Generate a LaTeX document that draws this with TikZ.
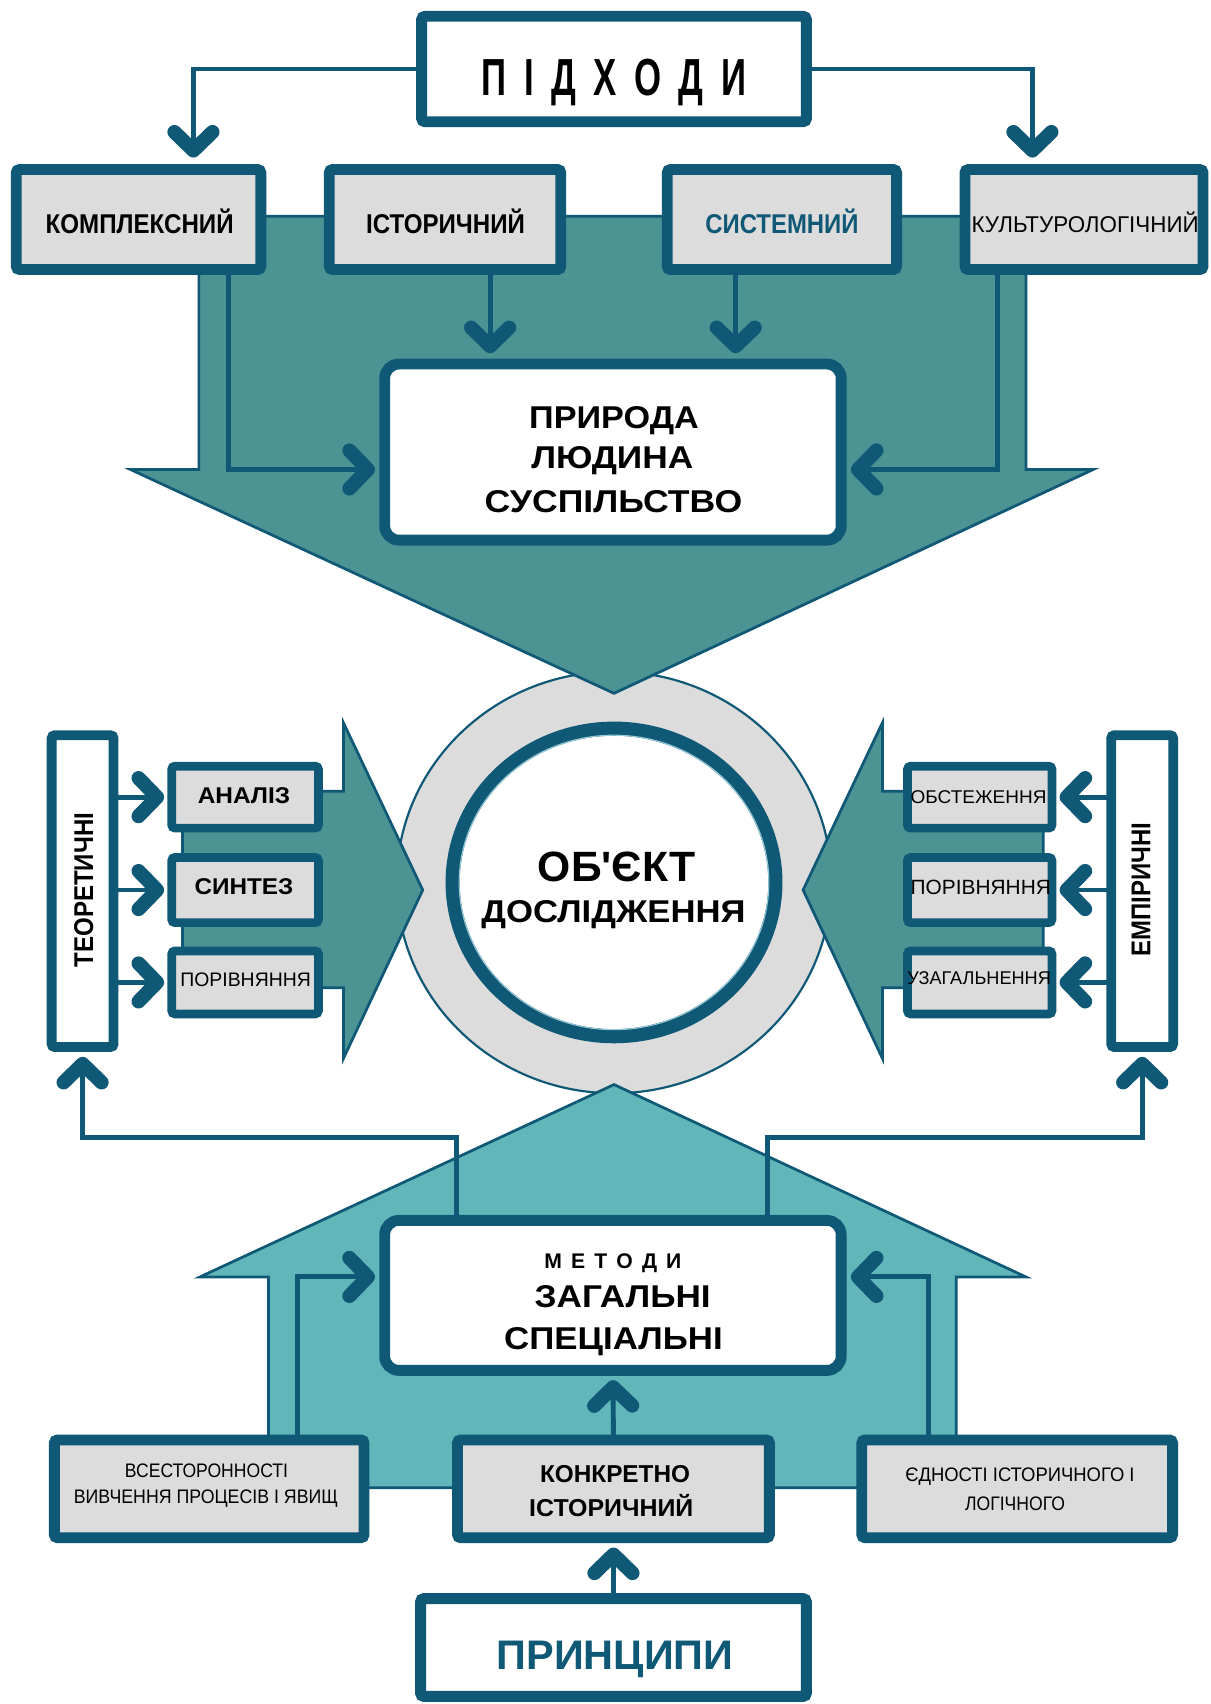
\documentclass[tikz,border=0pt]{standalone}
\usepackage{fontspec}
\setmainfont{Liberation Sans}
\newfontfamily\nolig{Liberation Sans}[Ligatures=TeXOff]
\usepackage{graphicx}
\usetikzlibrary{arrows.meta,backgrounds,calc,shapes.geometric}
\definecolor{dk}{RGB}{15,88,118}
\definecolor{tealA}{RGB}{76,147,147}
\definecolor{tealB}{RGB}{96,182,185}
\definecolor{gr}{RGB}{220,220,220}
\definecolor{ringl}{RGB}{150,200,214}
\newcommand{\fw}[2]{\resizebox{#1}{\height}{#2}}
\newcommand{\setfs}[1]{\fontsize{#1}{#1}\selectfont}
\begin{document}
\begin{tikzpicture}[x=1pt,y=-1pt,
  gbox/.style={draw=dk, fill=gr, line width=10pt, rounded corners=3pt, inner sep=0pt, outer sep=0pt},
  sbox/.style={gbox, line width=8pt},
  wbox/.style={draw=dk, fill=white, line width=10pt, rounded corners=3pt, inner sep=0pt, outer sep=0pt},
  rbox/.style={wbox, rounded corners=13pt},
  conn/.style={draw=dk, line width=4.5pt},
  chev/.style={-{Straight Barb[length=17pt,width=35pt,line width=13pt,round]}},
  tx/.style={anchor=base, inner sep=0pt, outer sep=0pt},
  big/.style={draw=dk, line width=2.5pt, line join=miter}]
\useasboundingbox (0,0) rectangle (1114,1568);

% ---- boxes ----
\node[wbox, minimum width=354pt, minimum height=97pt] (pidkh) at (565,63.5) {};
\node[gbox, minimum width=225pt, minimum height=92pt] (komp) at (127.5,202) {};
\node[gbox, minimum width=213pt, minimum height=92pt] (ist) at (409.5,202) {};
\node[gbox, minimum width=211pt, minimum height=92pt] (sist) at (719.5,202) {};
\node[gbox, minimum width=219pt, minimum height=92pt] (kult) at (997.5,202) {};
\node[rbox, minimum width=420pt, minimum height=162pt] (prir) at (564,416) {};

\node[wbox, line width=9pt, minimum width=57pt, minimum height=287pt] (teor) at (76,820) {};
\node[sbox, minimum width=135pt, minimum height=57pt] (an) at (225.5,733.5) {};
\node[sbox, minimum width=135pt, minimum height=60pt] (syn) at (225.5,819) {};
\node[sbox, minimum width=135pt, minimum height=58pt] (por) at (225.5,904) {};
\node[wbox, line width=9pt, minimum width=57pt, minimum height=287pt] (emp) at (1051,820) {};
\node[sbox, minimum width=133pt, minimum height=57pt] (obst) at (901.5,733.5) {};
\node[sbox, minimum width=133pt, minimum height=60pt] (por2) at (901.5,819) {};
\node[sbox, minimum width=133pt, minimum height=58pt] (uzag) at (901.5,904) {};

\node[ellipse, draw=dk, fill=white, line width=13pt, minimum width=297pt, minimum height=283pt, inner sep=0pt, outer sep=0pt] (obj) at (565,812) {};
\draw[ringl, line width=1pt] (obj.center) ellipse [x radius=142.5pt, y radius=135.5pt];

\node[rbox, minimum width=420pt, minimum height=138pt] (met) at (564,1192) {};
\node[gbox, minimum width=285pt, minimum height=90pt] (vses) at (192.5,1370) {};
\node[gbox, minimum width=287pt, minimum height=90pt] (konk) at (564.5,1370) {};
\node[gbox, minimum width=286pt, minimum height=90pt] (yedn) at (936,1370) {};
\node[wbox, minimum width=355pt, minimum height=90pt] (prin) at (564.5,1516) {};

% ---- texts ----
\node[tx] (pidkh-t) at (565,88) {\fw{243pt}{\setfs{48}\bfseries П\hspace{24pt}І\hspace{24pt}Д\hspace{24pt}Х\hspace{24pt}О\hspace{24pt}Д\hspace{24pt}И}};
\node[tx] (komp-t) at (128.5,215) {\fw{173pt}{\setfs{25}\bfseries КОМПЛЕКСНИЙ}};
\node[tx] (ist-t) at (410,215) {\fw{146pt}{\setfs{25}\bfseries ІСТОРИЧНИЙ}};
\node[tx, text=dk] (sist-t) at (719.5,215) {\fw{141pt}{\setfs{25}\bfseries СИСТЕМНИЙ}};
\node[tx] (kult-t) at (998.5,213.5) {\fw{209pt}{\setfs{21}КУЛЬТУРОЛОГІЧНИЙ}};

\node[tx] (prir-t1) at (565,394.5) {\fw{156pt}{\setfs{29}\bfseries ПРИРОДА}};
\node[tx] (prir-t2) at (563.5,431.5) {\fw{149pt}{\setfs{29}\bfseries ЛЮДИНА}};
\node[tx] (prir-t3) at (564.5,471.5) {\fw{237pt}{\setfs{29}\bfseries СУСПІЛЬСТВО}};

\node[tx] (obj-t1) at (567.5,811) {\fw{145pt}{\setfs{39}\bfseries ОБ{\nolig\bfseries '}ЄКТ}};
\node[tx] (obj-t2) at (564.5,849) {\fw{243pt}{\setfs{29}\bfseries ДОСЛІДЖЕННЯ}};

\node[tx] (an-t) at (224.5,739) {\fw{85pt}{\setfs{21}\bfseries АНАЛІЗ}};
\node[tx] (syn-t) at (224.5,823) {\fw{91pt}{\setfs{21}\bfseries СИНТЕЗ}};
\node[tx] (por-t) at (226,908) {\fw{120pt}{\setfs{18}ПОРІВНЯННЯ}};
\node[tx] (obst-t) at (900.5,739) {\fw{125pt}{\setfs{17}ОБСТЕЖЕННЯ}};
\node[tx] (por2-t) at (902.5,823) {\fw{129pt}{\setfs{19}ПОРІВНЯННЯ}};
\node[tx] (uzag-t) at (901,906) {\fw{132pt}{\setfs{17}УЗАГАЛЬНЕННЯ}};

\node[rotate=90, inner sep=0pt] (teor-t) at (77,819) {\fw{142pt}{\setfs{25}\bfseries ТЕОРЕТИЧНІ}};
\node[rotate=90, inner sep=0pt] (emp-t) at (1050,818.5) {\fw{123pt}{\setfs{25}\bfseries ЕМПІРИЧНІ}};

\node[tx] (met-t1) at (564,1167.5) {\fw{126pt}{\setfs{19.5}\bfseries М\hspace{8.4pt}Е\hspace{8.4pt}Т\hspace{8.4pt}О\hspace{8.4pt}Д\hspace{8.4pt}И}};
\node[tx] (met-t2) at (573,1203) {\fw{162pt}{\setfs{29}\bfseries ЗАГАЛЬНІ}};
\node[tx] (met-t3) at (564.5,1242) {\fw{201pt}{\setfs{29}\bfseries СПЕЦІАЛЬНІ}};

\node[tx] (vses-t1) at (190,1359.5) {\fw{150pt}{\setfs{18}ВСЕСТОРОННОСТІ}};
\node[tx] (vses-t2) at (189.5,1383.5) {\fw{243pt}{\setfs{18}ВИВЧЕННЯ ПРОЦЕСІВ І ЯВИЩ}};
\node[tx] (konk-t1) at (566,1364) {\fw{138pt}{\setfs{22.5}\bfseries КОНКРЕТНО}};
\node[tx] (konk-t2) at (562.5,1395) {\fw{151pt}{\setfs{22.5}\bfseries ІСТОРИЧНИЙ}};
\node[tx] (yedn-t1) at (938.5,1363.5) {\fw{211pt}{\setfs{18}ЄДНОСТІ ІСТОРИЧНОГО І}};
\node[tx] (yedn-t2) at (934,1390) {\fw{92pt}{\setfs{18}ЛОГІЧНОГО}};
\node[tx, text=dk] (prin-t) at (566,1536) {\fw{218pt}{\setfs{38}\bfseries ПРИНЦИПИ}};

\coordinate (ya) at (0,432);
\coordinate (yb) at (0,1175);
\coordinate (lk) at (420,1047);
\coordinate (rk) at (706,1047);

\begin{scope}[on background layer]
  \fill[white] (0,0) rectangle (1114,1568);
  % ring
  \filldraw[fill=gr, draw=dk, line width=2pt] (obj.center) ellipse [x radius=200pt, y radius=194pt];
  % big arrows
  \filldraw[big, fill=tealA] (183,199) -- (944,199) -- (944,432) -- (1006,432) -- (565,638) -- (120,432) -- (183,432) -- cycle;
  \filldraw[big, fill=tealB] (247,1369) -- (247,1175) -- (184,1175) -- (565,998) -- (944,1175) -- (880,1175) -- (880,1369) -- cycle;
  \filldraw[big, fill=tealA] (168,728) -- (316,728) -- (316,665) -- (389,819) -- (316,974) -- (316,909) -- (168,909) -- cycle;
  \filldraw[big, fill=tealA] (960,728) -- (812,728) -- (812,665) -- (739,819) -- (812,974) -- (812,909) -- (960,909) -- cycle;
  % connectors top
  \draw[conn, chev, shorten >=11pt] (pidkh.west) -| ([xshift=50.5pt]komp.north);
  \draw[conn, chev, shorten >=11pt] (pidkh.east) -| ([xshift=-47.5pt]kult.north);
  \draw[conn, chev, shorten >=10pt] ([xshift=41.5pt]ist.south) -- ([xshift=41.5pt]ist.south |- prir.north);
  \draw[conn, chev, shorten >=10pt] ([xshift=-42.5pt]sist.south) -- ([xshift=-42.5pt]sist.south |- prir.north);
  \draw[conn, chev, shorten >=9pt] ([xshift=82.5pt]komp.south) |- (prir.west |- ya);
  \draw[conn, chev, shorten >=9pt] ([xshift=-79.5pt]kult.south) |- (prir.east |- ya);
  % connectors middle
  \foreach \b in {an,syn,por} \draw[conn, chev, shorten >=7pt] (teor.east |- \b.west) -- (\b.west);
  \foreach \b in {obst,por2,uzag} \draw[conn, chev, shorten >=7pt] (emp.west |- \b.east) -- (\b.east);
  \draw[conn, chev, shorten >=9pt] (met.north -| lk) -- (lk) -| (teor.south);
  \draw[conn, chev, shorten >=9pt] (met.north -| rk) -- (rk) -| (emp.south);
  % connectors bottom
  \draw[conn, chev, shorten >=9pt] ([xshift=81.5pt]vses.north) |- (met.west |- yb);
  \draw[conn, chev, shorten >=9pt] ([xshift=-82pt]yedn.north) |- (met.east |- yb);
  \draw[conn, chev, shorten >=9pt] (konk.north) -- (met.south);
  \draw[conn, chev, shorten >=9pt] (prin.north) -- (konk.south);
\end{scope}
\end{tikzpicture}
\end{document}
